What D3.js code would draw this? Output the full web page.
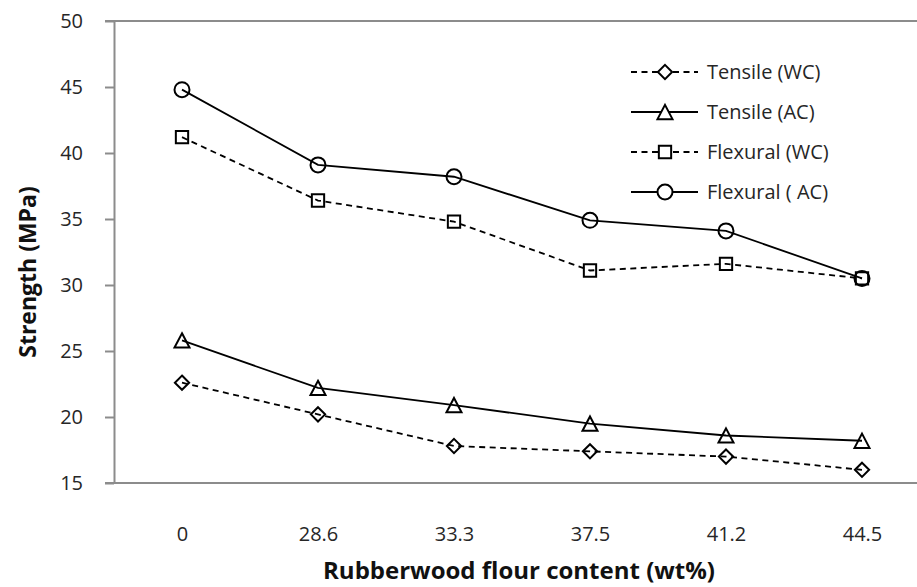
<!DOCTYPE html>
<html>
<head>
<meta charset="utf-8">
<script src="https://cdn.jsdelivr.net/npm/d3@7/dist/d3.min.js"></script>
<style>
  html, body { margin: 0; padding: 0; background: #fff; }
  svg { display: block; }
  .tick-label { font-family: "Open Sans", sans-serif; font-size: 20px; fill: #262626; }
  .axis-title { font-family: "Open Sans", sans-serif; font-weight: bold; fill: #111; }
  .legend-label { font-family: "Open Sans", sans-serif; font-size: 20px; fill: #262626; }
</style>
</head>
<body>
<svg id="chart" width="917" height="587"></svg>
<script>
// Filler content (wt%) on the x axis
const categories = ["0", "28.6", "33.3", "37.5", "41.2", "44.5"];

// Strength values (MPa)
const tensileWC  = [22.6, 20.2, 17.8, 17.4, 17.0, 16.0];
const tensileAC  = [25.8, 22.2, 20.9, 19.5, 18.6, 18.2];
const flexuralWC = [41.2, 36.4, 34.8, 31.1, 31.6, 30.5];
const flexuralAC = [44.8, 39.1, 38.2, 34.9, 34.1, 30.5];

const yTicks = [15, 20, 25, 30, 35, 40, 45, 50];

const seriesNames = ["Tensile (WC)", "Tensile (AC)", "Flexural (WC)", "Flexural ( AC)"];
const seriesValues = [tensileWC, tensileAC, flexuralWC, flexuralAC];
const seriesMarkers = ["diamond", "triangle", "square", "circle"];
const seriesDashed = [true, false, true, false];

const svg = d3.select("#chart");
const W = 917, H = 587;
const plot = { left: 114, right: 930, top: 21, bottom: 483 };

const x = d3.scalePoint().domain(categories).range([plot.left, plot.right]).padding(0.5);
const y = d3.scaleLinear().domain([15, 50]).range([plot.bottom, plot.top]);

const axisColor = "#8c8c8c";

// Marker shapes, outline only
const markerTypes = {
  circle: { draw(ctx, size) { const r = size; ctx.moveTo(r, 0); ctx.arc(0, 0, r, 0, 2 * Math.PI); } },
  square: { draw(ctx, size) { const h = size * 0.82; ctx.rect(-h, -h, 2 * h, 2 * h); } },
  diamond: { draw(ctx, size) { const h = size * 0.95; ctx.moveTo(0, -h); ctx.lineTo(h, 0); ctx.lineTo(0, h); ctx.lineTo(-h, 0); ctx.closePath(); } },
  triangle: { draw(ctx, size) { const w = size * 1.0, h = size * 0.95; ctx.moveTo(0, -h); ctx.lineTo(w, h); ctx.lineTo(-w, h); ctx.closePath(); } }
};
const markerPath = name => d3.symbol().type(markerTypes[name]).size(7.5)();

// Top border at the 50 MPa level
svg.append("line")
  .attr("x1", plot.left - 9).attr("x2", W)
  .attr("y1", y(50)).attr("y2", y(50))
  .attr("stroke", axisColor).attr("stroke-width", 2);

// Y axis
const yAxis = svg.append("g")
  .attr("transform", `translate(${plot.left},0)`)
  .call(d3.axisLeft(y).tickValues(yTicks).tickSize(9).tickPadding(22).tickSizeOuter(0));
yAxis.select(".domain").attr("stroke", axisColor).attr("stroke-width", 2);
yAxis.selectAll(".tick line").attr("stroke", axisColor).attr("stroke-width", 2);
yAxis.selectAll(".tick text").attr("class", "tick-label").attr("font-size", null).attr("font-family", null).attr("fill", null);

// X axis
const xAxis = svg.append("g")
  .attr("transform", `translate(0,${plot.bottom})`)
  .call(d3.axisBottom(x).tickSize(0).tickPadding(44).tickSizeOuter(0));
xAxis.select(".domain").attr("stroke", axisColor).attr("stroke-width", 2)
  .attr("d", `M${plot.left - 9},0H${plot.right}`);
xAxis.selectAll(".tick text").attr("class", "tick-label").attr("font-size", null).attr("font-family", null).attr("fill", null);

// Axis titles
svg.append("text").attr("class", "axis-title")
  .attr("x", 519).attr("y", 579).attr("text-anchor", "middle")
  .attr("font-size", 24)
  .text("Rubberwood flour content (wt%)");
svg.append("text").attr("class", "axis-title")
  .attr("transform", "translate(36,272) rotate(-90)")
  .attr("text-anchor", "middle")
  .attr("font-size", 23)
  .text("Strength (MPa)");

// Series lines and markers
const line = d3.line().x((d, i) => x(categories[i])).y(d => y(d));

seriesValues.forEach((vals, s) => {
  const g = svg.append("g");
  g.append("path")
    .attr("d", line(vals))
    .attr("fill", "none").attr("stroke", "#000").attr("stroke-width", 1.8)
    .attr("stroke-dasharray", seriesDashed[s] ? "6,4.5" : null);
  g.selectAll("path.marker").data(vals).join("path")
    .attr("class", "marker")
    .attr("d", markerPath(seriesMarkers[s]))
    .attr("transform", (d, i) => `translate(${x(categories[i])},${y(d)})`)
    .attr("fill", "none").attr("stroke", "#000").attr("stroke-width", 2);
});

// Legend
const legend = svg.append("g").attr("transform", "translate(631,72)");
seriesNames.forEach((name, s) => {
  const row = legend.append("g").attr("transform", `translate(0,${s * 40})`);
  row.append("line").attr("x1", 0).attr("x2", 67).attr("y1", 0).attr("y2", 0)
    .attr("stroke", "#000").attr("stroke-width", 1.8)
    .attr("stroke-dasharray", seriesDashed[s] ? "6,4.5" : null);
  row.append("path").attr("d", markerPath(seriesMarkers[s]))
    .attr("transform", "translate(34,0)")
    .attr("fill", "#fff").attr("stroke", "#000").attr("stroke-width", 2);
  row.append("text").attr("class", "legend-label")
    .attr("x", 76).attr("y", 0).attr("dy", "0.35em")
    .text(name);
});
</script>
</body>
</html>
